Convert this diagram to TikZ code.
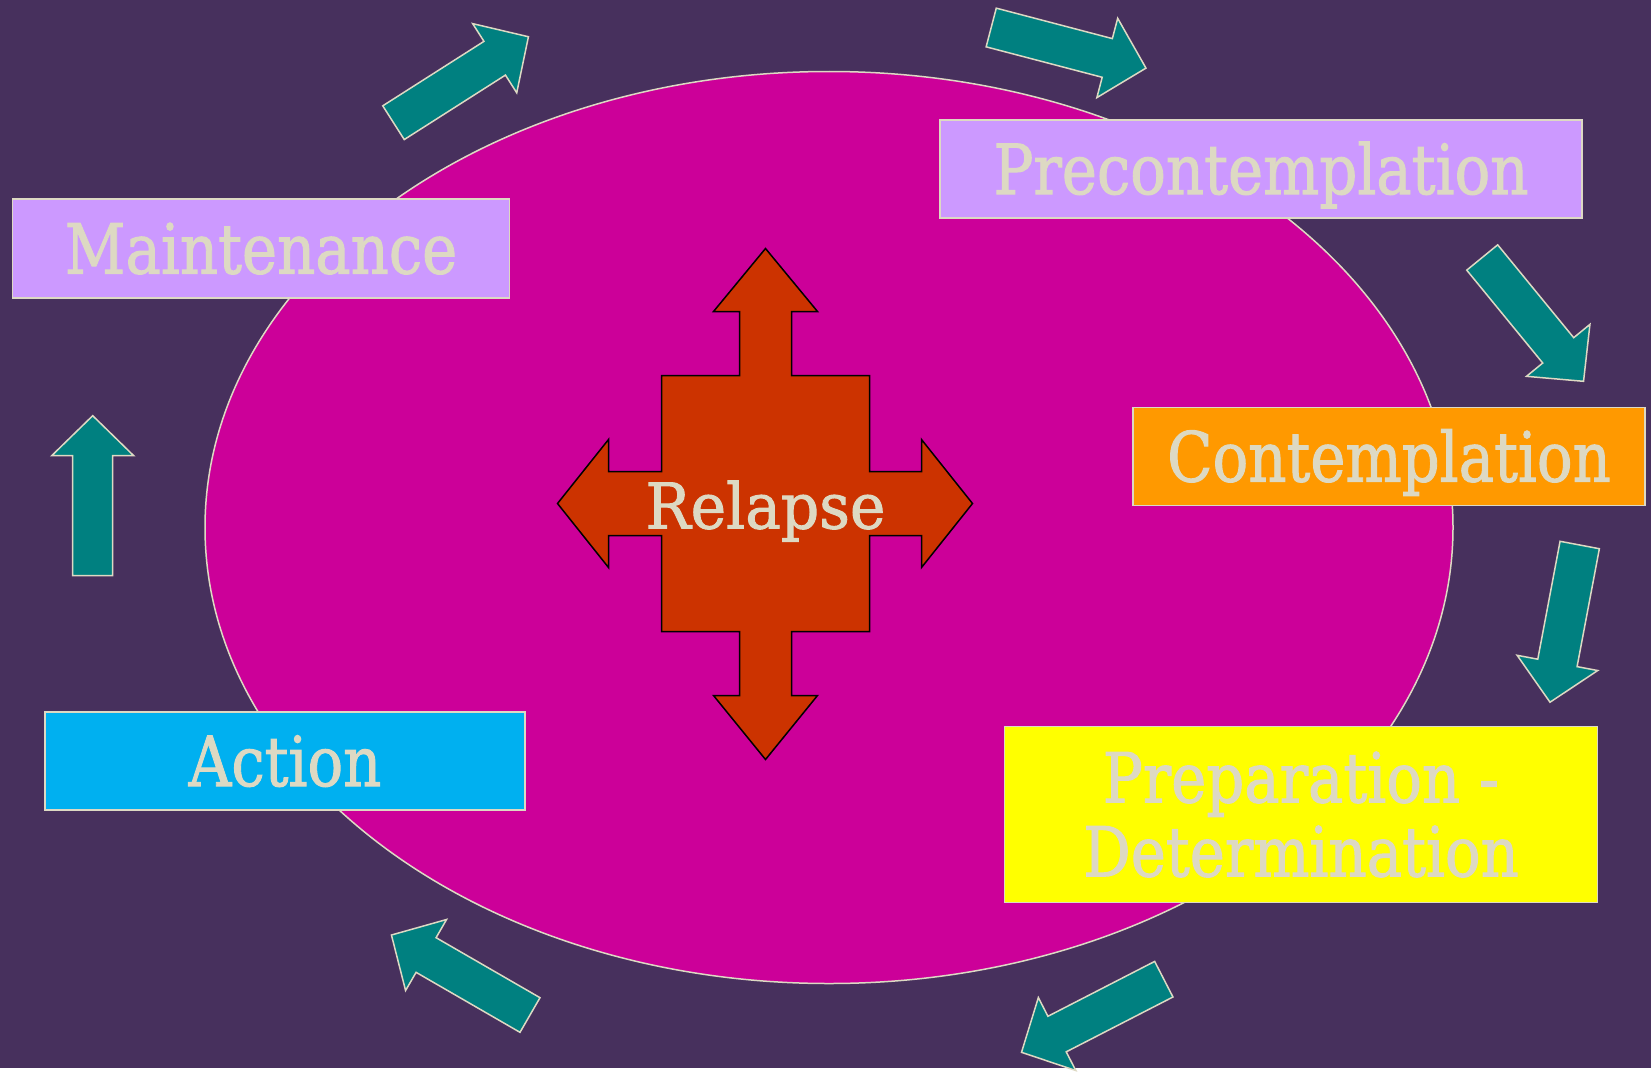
\documentclass[tikz,border=0pt]{standalone}
\usepackage{fontspec}
\setmainfont{DejaVu Serif}[BoldFont=DejaVu Serif,BoldFeatures={FakeBold=1.5}]
\usepackage{graphicx}
\usepackage{tikz}
\usetikzlibrary{shapes,positioning}
\usetikzlibrary{calc}

\definecolor{bgpurple}{RGB}{71,48,93}
\definecolor{ringpink}{RGB}{204,0,153}
\definecolor{beige}{RGB}{221,217,195}
\definecolor{lavender}{RGB}{204,153,255}
\definecolor{stageorange}{RGB}{255,153,0}
\definecolor{stageyellow}{RGB}{255,255,0}
\definecolor{stageblue}{RGB}{0,176,240}
\definecolor{stageteal}{RGB}{0,128,128}
\definecolor{relapsered}{RGB}{204,51,0}

\newcommand{\squeeze}[1]{\scalebox{0.86}[1]{#1}}

\begin{document}
\begin{tikzpicture}[x=1pt,y=-1pt,
	stage/.style={draw=beige,line width=1.5pt,inner sep=0pt,text=beige,align=center,
		font=\fontsize{69}{74}\selectfont\bfseries},
	oneline/.style={text height=50pt,text depth=0pt},
	turnarrow/.style={fill=stageteal,draw=beige,line width=1.5pt,line join=miter},
	crossshape/.style={fill=relapsered,draw=black,line width=1.5pt}]
		\fill[bgpurple] (0,0) rectangle (1651,1068);
		\node[draw=beige,fill=ringpink,line width=1.5pt,ellipse,minimum width=1248pt,minimum height=912pt] (ring) at (829,527.5) {};
		% Relapse cross
		\draw[crossshape,shift={(765.5,503.5)}] (0,-255) -- (52,-192) -- (26,-192) -- (26,-128) -- (104,-128) -- (104,-32)
			-- (156,-32) -- (156,-64) -- (207,0) -- (156,64) -- (156,32) -- (104,32) -- (104,128) -- (26,128) -- (26,192)
			-- (52,192) -- (0,256) -- (-52,192) -- (-26,192) -- (-26,128) -- (-104,128) -- (-104,32) -- (-157,32)
			-- (-157,64) -- (-208,0) -- (-157,-64) -- (-157,-32) -- (-104,-32) -- (-104,-128) -- (-26,-128) -- (-26,-192)
			-- (-52,-192) -- cycle;
		\node[text=beige,font=\fontsize{63}{68}\selectfont\bfseries,text height=46pt,text depth=0pt,inner sep=0pt] (relapse) at (765.5,505.5) {\scalebox{0.95}[1]{Relapse}};
		% stages
		\node[stage,oneline,fill=lavender,minimum width=642pt,minimum height=98pt] (precon) at (1261,169) {\squeeze{Precontemplation}};
		\node[stage,oneline,fill=stageorange,minimum width=512pt,minimum height=98pt] (contem) at (1389,456.5) {\squeeze{Contemplation}};
		\node[stage,fill=stageyellow,minimum width=593pt,minimum height=176pt] (prepdet) at (1301,814.5) {\squeeze{Preparation -}\\\squeeze{Determination}};
		\node[stage,oneline,fill=stageblue,minimum width=480pt,minimum height=98pt] (action) at (285,761) {\squeeze{Action}};
		\node[stage,oneline,fill=lavender,minimum width=497pt,minimum height=99pt] (maint) at (261,248.5) {\squeeze{Maintenance}};
		% arrows round the ring
		\foreach \tx/\ty/\ang in {393.5/122.7/32.5, 991.2/27.5/-14.7, 1482.2/257.5/-50.7, 1579.7/545/-100.7,
			1163.8/979.2/-152.8, 530/1015/150, 92.7/575.7/90}
			\draw[turnarrow,shift={(\tx,\ty)},rotate=\ang] (0,-20) -- (120,-20) -- (120,-41) -- (160,0) -- (120,41) -- (120,20) -- (0,20) -- cycle;
	\end{tikzpicture}
\end{document}
